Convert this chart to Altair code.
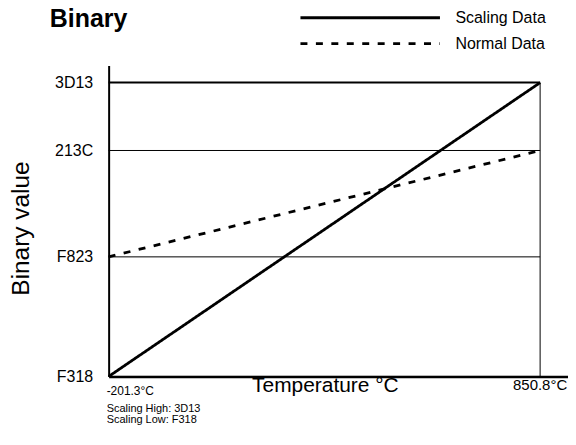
import altair as alt
import pandas as pd

# ---- data -------------------------------------------------------------
temps = [-201.3, 850.8]                       # temperature range (°C)
level_labels = ["F318", "F823", "213C", "3D13"]  # binary value tick labels
level_pos = [0.0, 0.407, 0.769, 1.0]           # relative positions on the y axis
series_names = ["Scaling Data", "Normal Data"]
scaling_vals = [0.0, 1.0]    # F318 -> 3D13
normal_vals = [0.407, 0.769]  # F823 -> 213C
temp_labels = ["-201.3°C", "850.8°C"]
notes = ["Scaling High: 3D13", "Scaling Low: F318"]

FONT = "Liberation Sans"

lines_df = pd.DataFrame({
    "temp": temps + temps,
    "val": scaling_vals + normal_vals,
    "series": [series_names[0]] * 2 + [series_names[1]] * 2,
})
levels_df = pd.DataFrame({
    "label": level_labels,
    "pos": level_pos,
    "t0": [temps[0]] * 4,
    "t1": [temps[1]] * 4,
    "w": [1, 1, 1, 2],
})
vline_df = pd.DataFrame({"temp": [temps[1]], "y0": [level_pos[0]], "y1": [level_pos[-1]]})
tlab_df = pd.DataFrame({"temp": temps, "label": temp_labels, "pos": [0.0, 0.0]})

label_expr = " : ".join(
    f"datum.value == {p} ? '{l}'" for p, l in zip(level_pos, level_labels)
) + " : ''"

W, H = 461, 312
x_scale = alt.Scale(domain=[-201.3, 918.8], nice=False, zero=False)
y_scale = alt.Scale(domain=[0, 1.058], nice=False, zero=False)

x_axis = alt.Axis(
    title="Temperature °C", labels=False, ticks=False, grid=False,
    domainColor="black", domainWidth=2.5,
    titleFont=FONT, titleFontSize=21, titleFontWeight="normal", titleColor="black",
    titleX=217, titleY=15, titleAlign="center", titleBaseline="alphabetic",
)
y_axis = alt.Axis(
    title="Binary value", values=level_pos, labelExpr=label_expr,
    ticks=False, grid=False, domainColor="black", domainWidth=2,
    labelFont=FONT, labelFontSize=16, labelColor="black", labelPadding=16,
    labelBaseline="middle",
    titleFont=FONT, titleFontSize=24.5, titleFontWeight="normal", titleColor="black",
    titleX=-87, titleY=163, titleAngle=-90, titleAlign="center", titleBaseline="middle",
)

grid = alt.Chart(levels_df).mark_rule(color="black").encode(
    x=alt.X("t0:Q", scale=x_scale, axis=x_axis),
    x2="t1:Q",
    y=alt.Y("pos:Q", scale=y_scale, axis=y_axis),
    strokeWidth=alt.StrokeWidth("w:Q", scale=None, legend=None),
)

vline = alt.Chart(vline_df).mark_rule(color="black", strokeWidth=1).encode(
    x=alt.X("temp:Q", scale=x_scale),
    y=alt.Y("y0:Q", scale=y_scale),
    y2="y1:Q",
)

lines = alt.Chart(lines_df).mark_line(color="black", strokeWidth=2.8).encode(
    x=alt.X("temp:Q", scale=x_scale),
    y=alt.Y("val:Q", scale=y_scale),
    detail="series:N",
    strokeDash=alt.StrokeDash(
        "series:N",
        scale=alt.Scale(domain=series_names, range=[[1, 0], [7, 8.5]]),
        sort=series_names,
        legend=alt.Legend(
            title=None, orient="none", legendX=191, legendY=-56,
            direction="vertical", symbolType="stroke", symbolSize=19600,
            symbolStrokeWidth=2.8, symbolStrokeColor="black",
            clipHeight=16, rowPadding=10, labelOffset=14, padding=0,
            labelFont=FONT, labelFontSize=16, labelColor="black",
        ),
    ),
)

left_lab = alt.Chart(tlab_df.iloc[[0]]).mark_text(
    align="left", baseline="alphabetic", font=FONT, fontSize=12, dx=-2, dy=19, color="black"
).encode(x=alt.X("temp:Q", scale=x_scale), y=alt.Y("pos:Q", scale=y_scale), text="label:N")

right_lab = alt.Chart(tlab_df.iloc[[1]]).mark_text(
    align="center", baseline="alphabetic", font=FONT, fontSize=15, dx=0, dy=14, color="black"
).encode(x=alt.X("temp:Q", scale=x_scale), y=alt.Y("pos:Q", scale=y_scale), text="label:N")

notes_df = pd.DataFrame({"temp": [temps[0]], "pos": [0.0], "label": [notes]})
notes_txt = alt.Chart(notes_df).mark_text(
    align="left", baseline="top", font=FONT, fontSize=11, lineHeight=11,
    dx=-2, dy=27, color="black"
).encode(x=alt.X("temp:Q", scale=x_scale), y=alt.Y("pos:Q", scale=y_scale), text="label")

chart = alt.layer(grid, vline, lines, left_lab, right_lab, notes_txt).properties(
    width=W, height=H,
    title=alt.TitleParams(
        "Binary", anchor="start", frame="group", font=FONT, fontSize=25,
        fontWeight="bold", color="black", dx=-59, offset=-42, baseline="alphabetic",
    ),
    autosize=alt.AutoSizeParams(type="none"),
    padding={"left": 101, "top": 57, "right": 0, "bottom": 70},
).configure_view(stroke=None)

chart.save("out.html", embed_options={"renderer": "svg", "actions": False})
